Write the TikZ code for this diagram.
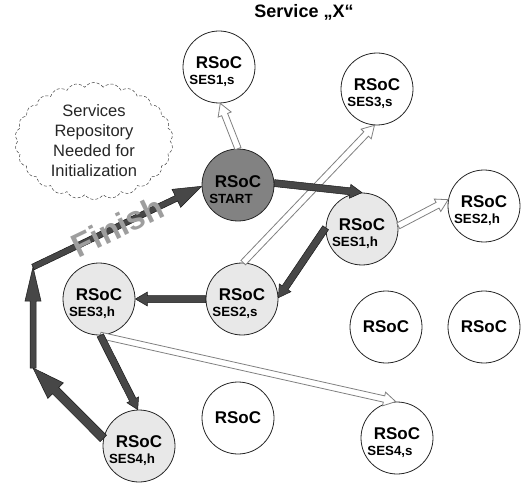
\documentclass[tikz,border=0pt]{standalone}
\usepackage{fontspec}
\setmainfont{Liberation Sans}
\usetikzlibrary{calc,shapes.symbols}
\definecolor{lightfill}{HTML}{E8E8E8}
\definecolor{startfill}{HTML}{828282}
\definecolor{darkarrow}{HTML}{474747}
\newcommand\seslab[1]{{\fontsize{13.3}{15}\selectfont\makebox[0pt]{\kern-14pt #1}}}
% #1 style, #2 from, #3 to, #4 half shaft width, #5 half head width, #6 head length
\newcommand\fatarrow[6]{%
  \coordinate (fa-b) at ($(#3)!#6!(#2)$);
  \path[#1] ($(#2)!#4!90:(#3)$) -- ($(fa-b)!#4!90:(#3)$) -- ($(fa-b)!#5!90:(#3)$) -- (#3)
    -- ($(fa-b)!#5!-90:(#3)$) -- ($(fa-b)!#4!-90:(#3)$) -- ($(#2)!#4!-90:(#3)$) -- cycle;
}
\tikzset{
  rsoc/.style={circle, draw=black!85, line width=0.8pt, minimum size=72pt, inner sep=0pt, fill=white},
  lab/.style={align=center, inner sep=0pt, font=\bfseries\fontsize{17}{16}\selectfont},
  plain/.style={rsoc, font=\bfseries\fontsize{17}{18}\selectfont},
  hollow/.style={draw=black!50, line width=0.8pt, fill=white, line join=miter},
  dark/.style={draw=black!90, line width=0.5pt, fill=darkarrow, line join=miter},
}
\begin{document}
\begin{tikzpicture}[x=1pt,y=-1pt]
\useasboundingbox (0,0) rectangle (525,484);
% title
\node[font=\bfseries\fontsize{18}{20}\selectfont] (title) at (304,12) {Service „X“};
% cloud
\node[cloud, cloud puffs=26, cloud puff arc=110, draw=black!75, densely dashed, line width=0.5pt,
      minimum width=158pt, minimum height=117pt, inner sep=0pt, aspect=1.35,
      align=center, font=\fontsize{16.5}{20}\selectfont, text=black!85] (cloud) at (94,141)
  {Services\\Repository\\Needed for\\Initialization};
% circles
\node[rsoc] (s1s) at (219,67) {};
\node[rsoc] (s3s) at (377,89) {};
\node[rsoc, fill=startfill] (start) at (238,185) {};
\node[rsoc, fill=lightfill] (s1h) at (362,229) {};
\node[rsoc] (s2h) at (484,206) {};
\node[rsoc, fill=lightfill] (s2s) at (242,299) {};
\node[plain] (p1) at (386,327) {RSoC};
\node[plain] (p2) at (484,327) {RSoC};
\node[plain] (p3) at (238,418) {RSoC};
\node[rsoc] (s4s) at (397,438) {};
\node[rsoc, fill=lightfill] (s3h) at (99,299) {};
\node[rsoc, fill=lightfill] (s4h) at (139,446) {};
% labels
\node[lab] (s1s-t) at ($(s1s)+(0,5)$) {RSoC\\\seslab{SES1,s}};
\node[lab] (s3s-t) at ($(s3s)+(0,5)$) {RSoC\\\seslab{SES3,s}};
\node[lab] (start-t) at ($(start)+(0,5)$) {RSoC\\\seslab{START}};
\node[lab] (s1h-t) at ($(s1h)+(0,5)$) {RSoC\\\seslab{SES1,h}};
\node[lab] (s2h-t) at ($(s2h)+(0,5)$) {RSoC\\\seslab{SES2,h}};
\node[lab] (s2s-t) at ($(s2s)+(0,5)$) {RSoC\\\seslab{SES2,s}};
\node[lab] (s4s-t) at ($(s4s)+(0,5)$) {RSoC\\\seslab{SES4,s}};
\node[lab] (s3h-t) at ($(s3h)+(0,5)$) {RSoC\\\seslab{SES3,h}};
\node[lab] (s4h-t) at ($(s4h)+(0,5)$) {RSoC\\\seslab{SES4,h}};
% corner points of the finish path
\coordinate (c1) at (33,368);
\coordinate (c2) at (33,267);
% hollow arrows
\fatarrow{hollow}{start.90}{s1s.272}{3.2pt}{7pt}{12pt}
\fatarrow{hollow}{s2s.88}{s3s.266}{3.2pt}{7pt}{12pt}
\fatarrow{hollow}{s1h.5}{s2h.170}{3.2pt}{7pt}{12pt}
\fatarrow{hollow}{s3h.272}{s4s.92}{3.2pt}{7pt}{12pt}
% dark arrows
\fatarrow{dark}{start.3}{s1h.90}{3.5pt}{7pt}{12pt}
\fatarrow{dark}{s1h.178}{s2s.2}{3.5pt}{7pt}{12pt}
\fatarrow{dark}{s2s.180}{s3h.0}{3.5pt}{7pt}{12pt}
\fatarrow{dark}{s3h.272}{s4h.92}{3.5pt}{6.5pt}{11pt}
\fatarrow{dark}{s4h.168}{c1}{4.5pt}{11pt}{32pt}
\fatarrow{dark}{c1}{c2}{3pt}{8pt}{34pt}
\fatarrow{dark}{c2}{start.182}{3pt}{10pt}{28pt}
% finish label
\path (c2) -- (start.182) node[midway, sloped, font=\bfseries\fontsize{33}{33}\selectfont, text=black!38] (fin) {Finish};
\end{tikzpicture}
\end{document}
